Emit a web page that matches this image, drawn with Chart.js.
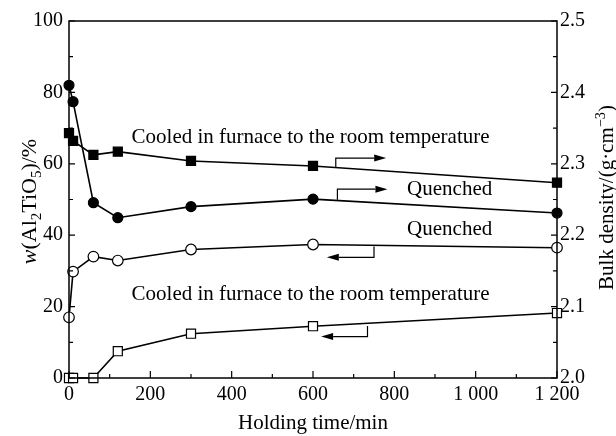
<!DOCTYPE html>
<html>
<head>
<meta charset="utf-8">
<script src="https://cdn.jsdelivr.net/npm/chart.js@4/dist/chart.umd.min.js"></script>
<style>
  html, body { margin: 0; padding: 0; background: #fff; }
  canvas { display: block; }
</style>
</head>
<body>
<canvas id="chart" width="616" height="436"></canvas>
<script>
// holding time, min
const holdingTimes = [0, 10, 60, 120, 300, 600, 1200];
// bulk density (right axis), g/cm3
const quenchedDensity = [2.41, 2.387, 2.2455, 2.2245, 2.24, 2.2505, 2.231];
const furnaceDensity = [2.343, 2.332, 2.3125, 2.317, 2.304, 2.297, 2.2735];
// w(Al2TiO5) (left axis), %
const quenchedContent = [17.0, 29.8, 34.0, 32.9, 36.0, 37.4, 36.5];
const furnaceContent = [0, 0, 0, 7.5, 12.4, 14.5, 18.2];

const xTicks = [0, 200, 400, 600, 800, 1000, 1200];
const leftTicks = [0, 20, 40, 60, 80, 100];
const rightTicks = [2.0, 2.1, 2.2, 2.3, 2.4, 2.5];

// annotation labels, in data units of x / left axis
const noteTexts = [
  { text: 'Cooled in furnace to the room temperature', x: 594, y: 67.5 },
  { text: 'Quenched', x: 936, y: 52.7 },
  { text: 'Quenched', x: 936, y: 41.7 },
  { text: 'Cooled in furnace to the room temperature', x: 594, y: 23.5 }
];
// leader arrows: from the curve, vertical, then horizontal to the tip
const noteArrows = [
  { x: 656, y0: 58.8, y1: 61.6, tip: 780 },
  { x: 660, y0: 49.9, y1: 52.9, tip: 783 },
  { x: 750, y0: 36.8, y1: 33.8, tip: 634 },
  { x: 734, y0: 14.6, y1: 11.6, tip: 620 }
];

const FONT = "'Liberation Serif', 'Times New Roman', serif";

const toPoints = (ys) => holdingTimes.map((t, i) => ({ x: t, y: ys[i] }));

const baseSet = {
  borderColor: '#000',
  borderWidth: 1.6,
  pointBorderColor: '#000',
  pointBorderWidth: 1.2,
  clip: false,
  tension: 0
};

// 边框和朝内的刻度
const frameTicks = {
  id: 'frameTicks',
  afterDraw(chart) {
    const { ctx, chartArea: a, scales } = chart;
    ctx.save();
    ctx.strokeStyle = '#000';
    ctx.lineWidth = 1.5;
    ctx.strokeRect(a.left, a.top, a.right - a.left, a.bottom - a.top);
    ctx.lineWidth = 1.2;
    ctx.beginPath();
    for (let v = 0; v <= 1200; v += 100) {
      const px = scales.x.getPixelForValue(v);
      const len = v % 200 === 0 ? 7 : 4;
      ctx.moveTo(px, a.bottom);
      ctx.lineTo(px, a.bottom - len);
    }
    for (let v = 0; v <= 100; v += 10) {
      const py = scales.y.getPixelForValue(v);
      const len = v % 20 === 0 ? 6 : 4;
      ctx.moveTo(a.left, py);
      ctx.lineTo(a.left + len, py);
    }
    for (let i = 0; i <= 10; i++) {
      const py = scales.y1.getPixelForValue(2.0 + i * 0.05);
      const len = i % 2 === 0 ? 6 : 4;
      ctx.moveTo(a.right, py);
      ctx.lineTo(a.right - len, py);
    }
    ctx.stroke();
    ctx.restore();
  }
};

// 带上下标的文字
const drawRich = (ctx, parts, size) => {
  const fontFor = (p) => {
    const s = p.shift ? size * 0.68 : size;
    return `${p.italic ? 'italic ' : ''}${s}px ${FONT}`;
  };
  let total = 0;
  parts.forEach(p => { ctx.font = fontFor(p); total += ctx.measureText(p.text).width; });
  let x = -total / 2;
  parts.forEach(p => {
    ctx.font = fontFor(p);
    let dy = 0;
    if (p.shift === 'sub') dy = size * 0.22;
    if (p.shift === 'sup') dy = -size * 0.38;
    ctx.fillText(p.text, x, dy);
    x += ctx.measureText(p.text).width;
  });
};

const axisTitles = {
  id: 'axisTitles',
  afterDraw(chart) {
    const { ctx, chartArea: a } = chart;
    const midY = (a.top + a.bottom) / 2;
    ctx.save();
    ctx.fillStyle = '#000';
    ctx.textBaseline = 'alphabetic';
    ctx.textAlign = 'left';

    ctx.save();
    ctx.translate((a.left + a.right) / 2, 429);
    drawRich(ctx, [{ text: 'Holding time/min' }], 21);
    ctx.restore();

    ctx.save();
    ctx.translate(36, midY + 2);
    ctx.rotate(-Math.PI / 2);
    drawRich(ctx, [
      { text: 'w', italic: true },
      { text: '(Al' },
      { text: '2', shift: 'sub' },
      { text: 'TiO' },
      { text: '5', shift: 'sub' },
      { text: ')/%' }
    ], 22);
    ctx.restore();

    ctx.save();
    ctx.translate(613, midY - 2);
    ctx.rotate(-Math.PI / 2);
    drawRich(ctx, [
      { text: 'Bulk density/(g\u00b7cm' },
      { text: '\u22123', shift: 'sup' },
      { text: ')' }
    ], 21);
    ctx.restore();
    ctx.restore();
  }
};

const notes = {
  id: 'notes',
  afterDatasetsDraw(chart) {
    const { ctx, scales } = chart;
    const sx = scales.x, sy = scales.y;
    ctx.save();
    ctx.fillStyle = '#000';
    ctx.strokeStyle = '#000';
    ctx.font = `21px ${FONT}`;
    ctx.textAlign = 'center';
    ctx.textBaseline = 'middle';
    noteTexts.forEach(n => {
      ctx.fillText(n.text, sx.getPixelForValue(n.x), sy.getPixelForValue(n.y));
    });
    ctx.lineWidth = 1.2;
    noteArrows.forEach(ar => {
      const x = sx.getPixelForValue(ar.x);
      const ya = sy.getPixelForValue(ar.y0);
      const yb = sy.getPixelForValue(ar.y1);
      const tip = sx.getPixelForValue(ar.tip);
      const dir = tip > x ? 1 : -1;
      const head = 12;
      ctx.beginPath();
      ctx.moveTo(x, ya);
      ctx.lineTo(x, yb);
      ctx.lineTo(tip - dir * head, yb);
      ctx.stroke();
      ctx.beginPath();
      ctx.moveTo(tip, yb);
      ctx.lineTo(tip - dir * head, yb - 3.5);
      ctx.lineTo(tip - dir * head, yb + 3.5);
      ctx.closePath();
      ctx.fill();
    });
    ctx.restore();
  }
};

const tickFont = { family: FONT, size: 20 };
const noGrid = { display: false, drawTicks: false, tickLength: 0 };

new Chart(document.getElementById('chart').getContext('2d'), {
  type: 'line',
  data: {
    datasets: [
      { ...baseSet, label: 'Cooled in furnace (density)', data: toPoints(furnaceDensity), yAxisID: 'y1',
        pointStyle: 'rect', pointRadius: 6.4, pointBackgroundColor: '#000' },
      { ...baseSet, label: 'Quenched (density)', data: toPoints(quenchedDensity), yAxisID: 'y1',
        pointStyle: 'circle', pointRadius: 5, pointBackgroundColor: '#000' },
      { ...baseSet, label: 'Quenched (w)', data: toPoints(quenchedContent), yAxisID: 'y',
        pointStyle: 'circle', pointRadius: 5.3, pointBackgroundColor: '#fff' },
      { ...baseSet, label: 'Cooled in furnace (w)', data: toPoints(furnaceContent), yAxisID: 'y',
        pointStyle: 'rect', pointRadius: 6.4, pointBackgroundColor: '#fff' }
    ]
  },
  options: {
    responsive: false,
    animation: false,
    devicePixelRatio: 1,
    layout: { padding: { top: 21, left: 0, right: 0, bottom: 0 } },
    plugins: {
      legend: { display: false },
      tooltip: { enabled: false }
    },
    scales: {
      x: {
        type: 'linear',
        min: 0,
        max: 1200,
        afterFit: (s) => { s.height = 58; },
        afterBuildTicks: (s) => { s.ticks = xTicks.map(v => ({ value: v })); },
        ticks: {
          font: tickFont,
          color: '#000',
          padding: 5,
          maxRotation: 0,
          callback: (v) => v >= 1000 ? `${Math.floor(v / 1000)} ${String(v % 1000).padStart(3, '0')}` : String(v)
        },
        grid: noGrid,
        border: { display: false }
      },
      y: {
        position: 'left',
        min: 0,
        max: 100,
        afterFit: (s) => { s.width = 69; },
        afterBuildTicks: (s) => { s.ticks = leftTicks.map(v => ({ value: v })); },
        ticks: { font: tickFont, color: '#000', padding: 6 },
        grid: noGrid,
        border: { display: false }
      },
      y1: {
        position: 'right',
        min: 2.0,
        max: 2.5,
        afterFit: (s) => { s.width = 59; },
        afterBuildTicks: (s) => { s.ticks = rightTicks.map(v => ({ value: v })); },
        ticks: { font: tickFont, color: '#000', padding: 3, callback: (v) => Number(v).toFixed(1) },
        grid: noGrid,
        border: { display: false }
      }
    }
  },
  plugins: [frameTicks, axisTitles, notes]
});
</script>
</body>
</html>
